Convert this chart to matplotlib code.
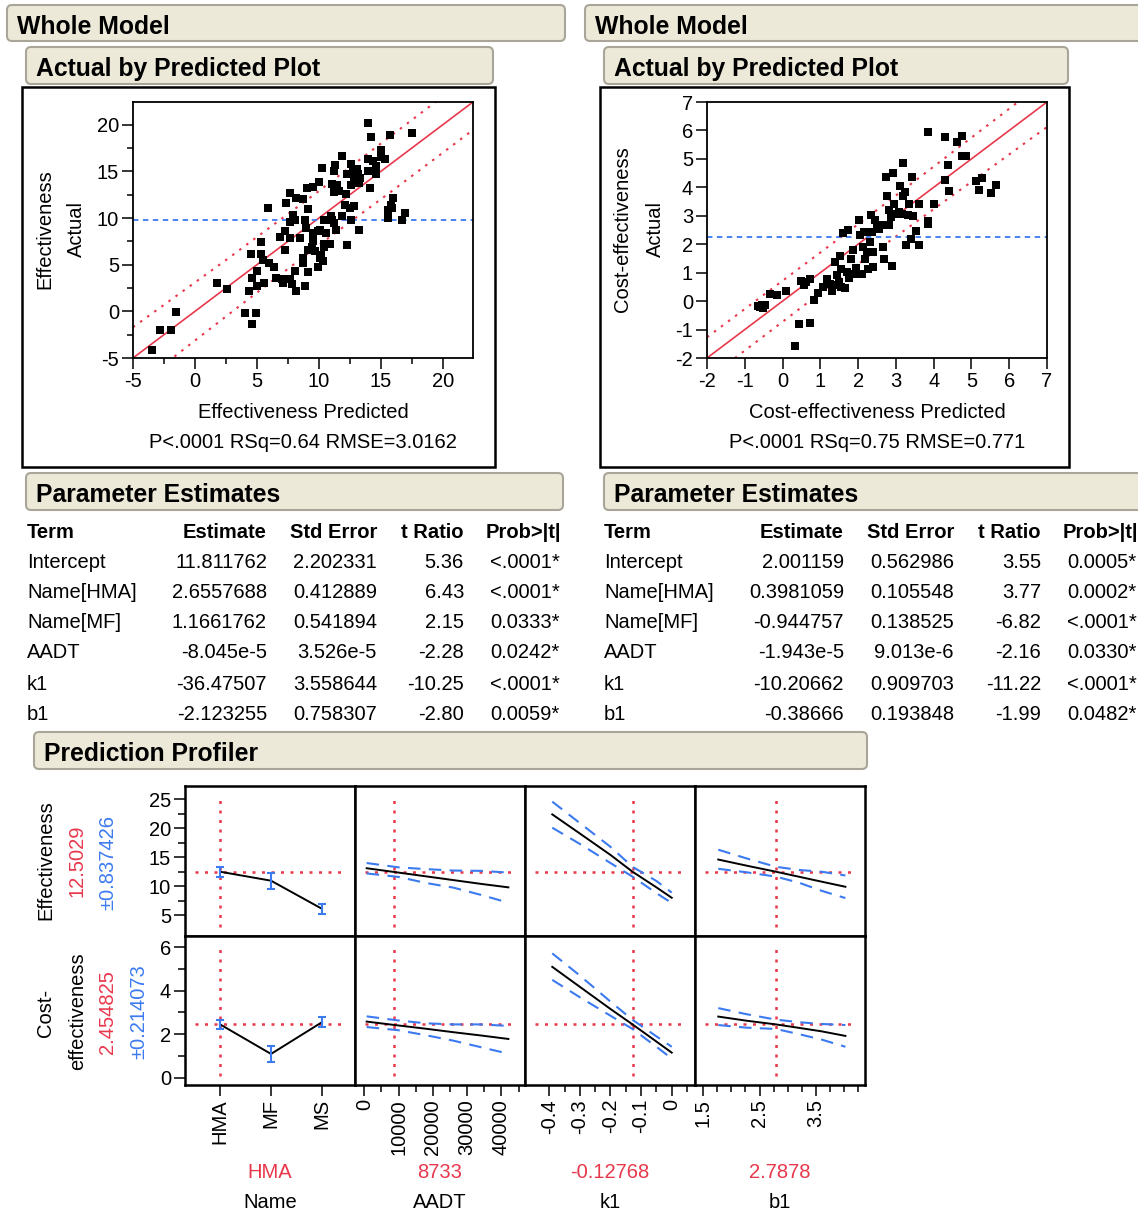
import numpy as np
import matplotlib
matplotlib.use("Agg")
import matplotlib.pyplot as plt
from matplotlib.patches import FancyBboxPatch, Rectangle
from matplotlib.ticker import MultipleLocator, FixedLocator

W, H = 1138, 1212
DPI = 100
plt.rcParams['font.family'] = ['Liberation Sans', 'DejaVu Sans']
plt.rcParams['font.size'] = 14.5
plt.rcParams['axes.unicode_minus'] = False

RED = '#E8384C'
BLUE = '#3C7AF0'
BEIGE = '#ECE9D8'

# ---------------- data ----------------
# actual by predicted, Effectiveness
eff_pred = [-3.5, -2.8, -1.9, -1.5, 1.8, 2.6, 4.05, 4.6, 4.95, 4.4, 4.6, 4.55, 5.0, 5.0, 5.6,
            5.35, 5.35, 5.5, 5.9, 6.0, 6.4, 6.55, 7.05, 7.1, 7.3, 6.9, 7.35, 7.3, 7.65, 7.7,
            7.95, 7.7, 7.8, 8.15, 8.1, 8.2, 8.75, 8.45, 8.1, 7.65, 8.9, 8.7, 8.7, 8.95, 8.85,
            9.05, 9.1, 9.15, 9.1, 9.45, 9.55, 9.55, 9.5, 9.7, 9.9, 10.05, 9.95, 10.1, 10.1,
            10.25, 10.15, 10.3, 10.4, 10.4, 10.45, 10.9, 10.55, 10.95, 11.05, 11.2, 11.3, 11.25,
            11.2, 11.1, 11.35, 11.45, 11.65, 11.85, 11.9, 12.1, 12.2, 12.3, 12.3, 12.6, 12.6,
            12.6, 12.8, 12.5, 12.85, 12.85, 13.1, 13.2, 13.25, 13.25, 13.3, 14.0, 14.0, 14.0,
            14.15, 14.25, 14.4, 14.6, 14.6, 15.0, 15.05, 15.35, 15.6, 15.55, 15.8, 15.9, 15.75,
            16.0, 16.75, 17.0, 17.55]
eff_actual = [-4.1, -2.05, -1.95, -0.1, 3.0, 2.4, -0.2, -1.4, -0.2, 2.15, 3.55, 6.1, 4.35, 2.7, 3.0,
              7.4, 6.1, 5.5, 11.1, 5.15, 4.75, 3.55, 3.5, 3.05, 6.55, 8.0, 11.6, 8.6, 12.65, 7.85,
              10.35, 3.45, 2.9, 2.15, 4.3, 12.15, 12.0, 7.85, 9.75, 9.6, 2.7, 5.7, 5.15, 8.95, 9.85,
              13.25, 11.0, 4.2, 6.6, 6.85, 13.35, 8.4, 7.5, 6.45, 4.8, 13.85, 8.6, 5.7, 8.75,
              15.35, 6.05, 5.35, 9.85, 7.2, 6.95, 7.2, 8.4, 10.25, 13.7, 15.1, 15.65, 12.8,
              9.5, 9.75, 8.75, 13.6, 12.95, 16.65, 10.2, 11.45, 12.55, 14.75, 7.15, 15.85, 13.6,
              9.85, 15.05, 11.1, 11.25, 14.35, 15.25, 14.7, 13.8, 8.7, 14.35, 20.25, 16.3, 15.05,
              13.2, 18.65, 16.1, 15.6, 14.7, 16.6, 17.35, 16.35, 10.9, 10.0, 11.4, 11.1, 18.9,
              12.15, 9.75, 10.55, 19.15]

# actual by predicted, Cost-effectiveness
ce_pred = [-0.64, -0.54, -0.51, -0.6, -0.46, -0.32, -0.16, 0.09, 0.32, 0.44, 0.49, 0.56, 0.63, 0.72,
           0.73, 0.82, 0.94, 1.08, 1.17, 1.25, 1.32, 1.34, 1.4, 1.45, 1.5, 1.52, 1.54, 1.56, 1.59,
           1.65, 1.7, 1.74, 1.77, 1.8, 1.87, 1.89, 1.94, 2.03, 2.05, 2.1, 2.14, 2.18, 2.16, 2.23,
           2.27, 2.31, 2.33, 2.36, 2.39, 2.4, 2.45, 2.49, 2.56, 2.62, 2.67, 2.69, 2.74, 2.77, 2.81,
           2.83, 2.86, 2.89, 2.93, 2.95, 3.0, 3.09, 3.11, 3.15, 3.2, 3.2, 3.24, 3.27, 3.33, 3.34,
           3.4, 3.42, 3.46, 3.52, 3.6, 3.6, 3.84, 3.86, 3.86, 4.02, 4.31, 4.31, 4.37, 4.41, 4.63,
           4.76, 4.75, 4.86, 5.13, 5.21, 5.28, 5.52, 5.64]
ce_actual = [-0.17, -0.13, -0.24, -0.21, -0.15, 0.25, 0.2, 0.34, -1.59, -0.82, 0.69, 0.58, 0.67, 0.77,
             -0.76, 0.03, 0.3, 0.5, 0.77, 0.59, 0.34, 0.55, 1.37, 0.91, 0.67, 1.59, 1.14, 0.5, 2.39,
             0.46, 1.02, 2.49, 0.81, 1.47, 1.79, 0.96, 1.16, 2.84, 2.34, 0.96, 1.9, 1.49, 2.43, 1.73,
             1.14, 2.08, 3.02, 2.43, 1.73, 1.2, 2.84, 2.66, 2.55, 2.66, 1.9, 1.47, 4.35, 3.68, 3.19,
             2.66, 2.96, 1.22, 4.52, 3.43, 3.07, 3.13, 4.03, 3.07, 4.87, 3.68, 3.84, 1.98, 3.02, 3.43,
             2.2, 4.35, 2.98, 2.48, 3.43, 1.96, 2.82, 2.72, 5.95, 3.4, 5.77, 4.26, 4.8, 3.86, 5.59,
             5.8, 5.11, 5.11, 4.21, 3.92, 4.34, 3.81, 4.09]

# confidence curves and response means
eff_conf_x = [-5, 2.5, 9.8, 16, 22.45]
eff_conf_hi = [-1.7, 5.5, 12.7, 19.0, 25.5]
eff_conf_lo = [-8.3, -0.55, 6.9, 13.0, 19.45]
eff_mean = 9.8
ce_conf_x = [-2, 2.2, 7]
ce_conf_hi = [-1.27, 2.9, 7.78]
ce_conf_lo = [-2.75, 1.5, 6.12]
ce_mean = 2.24

# parameter estimates
terms = ['Intercept', 'Name[HMA]', 'Name[MF]', 'AADT', 'k1', 'b1']
table_cols = ['Estimate', 'Std Error', 't Ratio']
eff_est = ['11.811762', '2.6557688', '1.1661762', '-8.045e-5', '-36.47507', '-2.123255']
eff_se = ['2.202331', '0.412889', '0.541894', '3.526e-5', '3.558644', '0.758307']
eff_t = ['5.36', '6.43', '2.15', '-2.28', '-10.25', '-2.80']
eff_p = ['<.0001*', '<.0001*', '0.0333*', '0.0242*', '<.0001*', '0.0059*']
ce_est = ['2.001159', '0.3981059', '-0.944757', '-1.943e-5', '-10.20662', '-0.38666']
ce_se = ['0.562986', '0.105548', '0.138525', '9.013e-6', '0.909703', '0.193848']
ce_t = ['3.55', '3.77', '-6.82', '-2.16', '-11.22', '-1.99']
ce_p = ['0.0005*', '0.0002*', '<.0001*', '0.0330*', '<.0001*', '0.0482*']

# prediction profiler
name_levels = ['HMA', 'MF', 'MS']
eff_name_pred = [12.50, 10.95, 6.1]
eff_name_err = [0.84, 1.35, 0.9]
ce_name_pred = [2.45, 1.09, 2.55]
ce_name_err = [0.21, 0.38, 0.23]

aadt_grid = [700, 10000, 18000, 26000, 34000, 42000]
eff_aadt_pred = [13.1, 12.35, 11.7, 11.05, 10.4, 9.8]
eff_aadt_hi = [14.0, 13.25, 12.95, 12.7, 12.65, 12.35]
eff_aadt_lo = [12.2, 11.6, 10.55, 9.75, 8.5, 7.15]
ce_aadt_pred = [2.58, 2.4, 2.25, 2.09, 1.94, 1.78]
ce_aadt_hi = [2.82, 2.63, 2.5, 2.45, 2.45, 2.38]
ce_aadt_lo = [2.33, 2.18, 1.95, 1.7, 1.4, 1.1]

k1_grid = [-0.39, -0.3, -0.2, -0.128, -0.05, 0.0]
eff_k1_pred = [22.4, 19.1, 15.4, 12.5, 9.8, 8.0]
eff_k1_hi = [24.6, 20.9, 16.8, 13.35, 10.9, 8.9]
eff_k1_lo = [20.1, 17.3, 14.0, 11.65, 8.8, 7.1]
ce_k1_pred = [5.1, 4.18, 3.16, 2.45, 1.66, 1.15]
ce_k1_hi = [5.72, 4.7, 3.5, 2.66, 1.9, 1.42]
ce_k1_lo = [4.5, 3.7, 2.85, 2.24, 1.42, 0.88]

b1_grid = [1.77, 2.27, 2.79, 3.2, 3.6, 4.02]
eff_b1_pred = [14.6, 13.55, 12.5, 11.63, 10.78, 9.9]
eff_b1_hi = [16.3, 14.8, 13.35, 12.8, 12.5, 11.85]
eff_b1_lo = [13.0, 12.4, 11.65, 10.6, 9.2, 7.95]
ce_b1_pred = [2.81, 2.62, 2.45, 2.29, 2.13, 1.92]
ce_b1_hi = [3.2, 2.92, 2.67, 2.55, 2.47, 2.42]
ce_b1_lo = [2.42, 2.3, 2.24, 2.0, 1.75, 1.42]

factor_names = ['Name', 'AADT', 'k1', 'b1']
factor_current = ['HMA', '8733', '-0.12768', '2.7878']
current_x = [0, 8733, -0.12768, 2.7878]
eff_current, eff_ci = '12.5029', '\u00b10.837426'
ce_current, ce_ci = '2.454825', '\u00b10.214073'
eff_current_val, ce_current_val = 12.5029, 2.454825

# ---------------- figure ----------------
fig = plt.figure(figsize=(W / DPI, H / DPI), dpi=DPI)
bg = fig.add_axes([0, 0, 1, 1])
bg.set_xlim(0, W)
bg.set_ylim(H, 0)
bg.axis('off')


def px_axes(x0, y0, x1, y1):
    return fig.add_axes([x0 / W, 1 - y1 / H, (x1 - x0) / W, (y1 - y0) / H])


def header(x0, y0, x1, y1, text):
    bg.add_patch(FancyBboxPatch((x0, y0), x1 - x0, y1 - y0,
                                boxstyle='round,pad=0,rounding_size=5',
                                fc=BEIGE, ec='#A9A699', lw=1.5))
    bg.text(x0 + 10, (y0 + y1) / 2 + 3.5, text, fontsize=17.8, fontweight='bold',
            ha='left', va='center')


header(7, 5, 565, 41, 'Whole Model')
header(585, 5, 1160, 41, 'Whole Model')
header(26, 47, 493, 84, 'Actual by Predicted Plot')
header(604, 47, 1068, 84, 'Actual by Predicted Plot')
header(26, 473, 563, 510, 'Parameter Estimates')
header(604, 473, 1160, 510, 'Parameter Estimates')
header(34, 732, 867, 769, 'Prediction Profiler')

bg.add_patch(Rectangle((22, 87), 473, 380, fill=False, ec='black', lw=1.8))
bg.add_patch(Rectangle((600, 87), 469, 380, fill=False, ec='black', lw=1.8))


def style_ticks(ax):
    ax.tick_params(which='major', direction='out', length=8, width=1.1, pad=2, labelsize=14.5)
    ax.tick_params(which='minor', direction='out', length=4.5, width=1.1)
    for s in ax.spines.values():
        s.set_linewidth(1.3)


def scatter_panel(box, lim, major, minor, xs, ys, cx, chi, clo, mean_y):
    ax = px_axes(*box)
    ax.plot(lim, lim, color=RED, lw=1.2)
    ax.plot(cx, chi, color=RED, lw=1.5, ls=(0, (1.2, 3)))
    ax.plot(cx, clo, color=RED, lw=1.5, ls=(0, (1.2, 3)))
    ax.axhline(mean_y, color=BLUE, lw=1.3, ls=(0, (3, 2.5)))
    ax.plot(xs, ys, 's', color='black', ms=5.4, mew=0)
    ax.set_xlim(lim)
    ax.set_ylim(lim)
    ax.xaxis.set_major_locator(MultipleLocator(major))
    ax.yaxis.set_major_locator(MultipleLocator(major))
    if minor:
        ax.xaxis.set_minor_locator(MultipleLocator(minor))
        ax.yaxis.set_minor_locator(MultipleLocator(minor))
    style_ticks(ax)
    return ax


scatter_panel((133, 102, 473, 358), (-5, 22.45), 5, 2.5, eff_pred, eff_actual,
              eff_conf_x, eff_conf_hi, eff_conf_lo, eff_mean)
scatter_panel((707, 102, 1047, 358), (-2, 7), 1, None, ce_pred, ce_actual,
              ce_conf_x, ce_conf_hi, ce_conf_lo, ce_mean)

bg.text(45, 229, 'Effectiveness', rotation=90, ha='center', va='center')
bg.text(76, 229, 'Actual', rotation=90, ha='center', va='center')
bg.text(303, 412, 'Effectiveness Predicted', ha='center', va='center')
bg.text(303, 442, 'P<.0001 RSq=0.64 RMSE=3.0162', ha='center', va='center')
bg.text(623, 229, 'Cost-effectiveness', rotation=90, ha='center', va='center')
bg.text(655, 229, 'Actual', rotation=90, ha='center', va='center')
bg.text(877, 412, 'Cost-effectiveness Predicted', ha='center', va='center')
bg.text(877, 442, 'P<.0001 RSq=0.75 RMSE=0.771', ha='center', va='center')

# parameter tables
row_y = [562, 592, 623, 653, 684, 715]


def param_table(x0, est, se, tr, pv):
    bg.text(x0, 532, 'Term', fontweight='bold', va='center', ha='left')
    for name, dx in zip(table_cols, [240, 350, 437]):
        bg.text(x0 + dx, 532, name, fontweight='bold', va='center', ha='right')
    bg.text(x0 + 459, 532, 'Prob>|t|', fontweight='bold', va='center', ha='left')
    for i, y in enumerate(row_y):
        bg.text(x0, y, terms[i], va='center', ha='left')
        bg.text(x0 + 240, y, est[i], va='center', ha='right')
        bg.text(x0 + 350, y, se[i], va='center', ha='right')
        bg.text(x0 + 437, y, tr[i], va='center', ha='right')
        bg.text(x0 + 463, y, pv[i], va='center', ha='left')


param_table(27, eff_est, eff_se, eff_t, eff_p)
param_table(604, ce_est, ce_se, ce_t, ce_p)

# prediction profiler
col_x = [185, 355, 525, 695, 865]
row_ys = [786, 936, 1085]
xlims = [(-0.69, 2.65), (-2700, 46850), (-0.479, 0.076), (1.358, 4.367)]
ylims = [(1.4, 27.3), (-0.34, 6.52)]
rows = [
    dict(name=(eff_name_pred, eff_name_err),
         curves=[(aadt_grid, eff_aadt_pred, eff_aadt_hi, eff_aadt_lo),
                 (k1_grid, eff_k1_pred, eff_k1_hi, eff_k1_lo),
                 (b1_grid, eff_b1_pred, eff_b1_hi, eff_b1_lo)],
         cur=eff_current_val),
    dict(name=(ce_name_pred, ce_name_err),
         curves=[(aadt_grid, ce_aadt_pred, ce_aadt_hi, ce_aadt_lo),
                 (k1_grid, ce_k1_pred, ce_k1_hi, ce_k1_lo),
                 (b1_grid, ce_b1_pred, ce_b1_hi, ce_b1_lo)],
         cur=ce_current_val),
]
dot_red = (0, (1.2, 2.6))
dash_blue = (0, (6, 4))

for r, row in enumerate(rows):
    for c in range(4):
        ax = px_axes(col_x[c], row_ys[r], col_x[c + 1], row_ys[r + 1])
        ax.set_xlim(xlims[c])
        ax.set_ylim(ylims[r])
        ax.axvline(current_x[c], ymin=0.06, ymax=0.94, color=RED, lw=1.8, ls=dot_red)
        ax.axhline(row['cur'], xmin=0.06, xmax=0.94, color=RED, lw=1.8, ls=dot_red)
        if c == 0:
            p, e = row['name']
            ax.plot(range(3), p, color='black', lw=1.4)
            ax.errorbar(range(3), p, yerr=e, fmt='none', ecolor=BLUE, elinewidth=1.5,
                        capsize=3, capthick=1.5)
        else:
            gx, gp, ghi, glo = row['curves'][c - 1]
            ax.plot(gx, ghi, color=BLUE, lw=1.5, ls=dash_blue)
            ax.plot(gx, glo, color=BLUE, lw=1.5, ls=dash_blue)
            ax.plot(gx, gp, color='black', lw=1.4)
        for s in ax.spines.values():
            s.set_linewidth(1.8)
        ax.tick_params(which='major', direction='out', length=8, width=1.1, pad=2, labelsize=14.5)
        ax.tick_params(which='minor', direction='out', length=5, width=1.1)
        if c == 0:
            if r == 0:
                ax.set_yticks([5, 10, 15, 20, 25])
                ax.yaxis.set_minor_locator(FixedLocator([7.5, 12.5, 17.5, 22.5]))
            else:
                ax.set_yticks([0, 2, 4, 6])
                ax.yaxis.set_minor_locator(FixedLocator([1, 3, 5]))
        else:
            ax.set_yticks([])
        if r == 1:
            if c == 0:
                ax.set_xticks([0, 1, 2], labels=name_levels)
            elif c == 1:
                ax.set_xticks([0, 10000, 20000, 30000, 40000],
                              labels=['0', '10000', '20000', '30000', '40000'])
                ax.xaxis.set_minor_locator(FixedLocator([5000, 15000, 25000, 35000, 45000]))
            elif c == 2:
                ax.set_xticks([-0.4, -0.3, -0.2, -0.1, 0], labels=['-0.4', '-0.3', '-0.2', '-0.1', '0'])
                ax.xaxis.set_minor_locator(FixedLocator([-0.35, -0.25, -0.15, -0.05, 0.05]))
            else:
                ax.set_xticks([1.5, 2.5, 3.5], labels=['1.5', '2.5', '3.5'])
                ax.xaxis.set_minor_locator(FixedLocator([1.75, 2.0, 2.25, 2.75, 3.0, 3.25,
                                                         3.75, 4.0, 4.25]))
            for lab in ax.get_xticklabels():
                lab.set_rotation(90)
        else:
            ax.set_xticks([])

bg.text(46, 860, 'Effectiveness', rotation=90, ha='center', va='center')
bg.text(77, 861, eff_current, rotation=90, ha='center', va='center', color=RED)
bg.text(108, 862, eff_ci, rotation=90, ha='center', va='center', color=BLUE)
bg.text(46, 1013, 'Cost-', rotation=90, ha='center', va='center')
bg.text(78, 1011, 'effectiveness', rotation=90, ha='center', va='center')
bg.text(108, 1012, ce_current, rotation=90, ha='center', va='center', color=RED)
bg.text(139, 1012, ce_ci, rotation=90, ha='center', va='center', color=BLUE)

for c in range(4):
    cx = (col_x[c] + col_x[c + 1]) / 2
    bg.text(cx, 1172, factor_current[c], ha='center', va='center', color=RED)
    bg.text(cx, 1202, factor_names[c], ha='center', va='center')

fig.savefig('out.png', dpi=DPI)
